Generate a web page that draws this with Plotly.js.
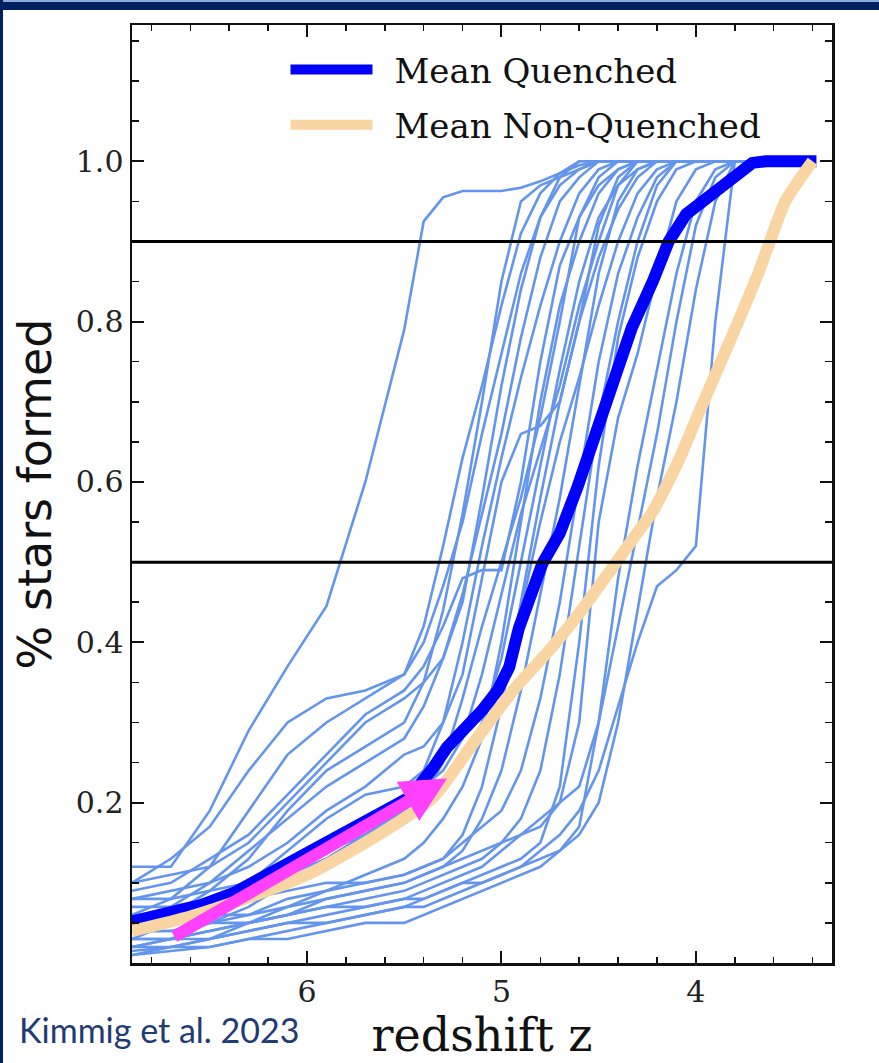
<!DOCTYPE html>
<html>
<head>
<meta charset="utf-8">
<script src="https://cdn.plot.ly/plotly-3.0.1.min.js"></script>
<style>
html,body{margin:0;padding:0;background:#fff;}
#wrap{position:relative;width:879px;height:1063px;overflow:hidden;}
#chart{position:absolute;left:0;top:0;width:879px;height:1063px;}
#topbar{position:absolute;left:0;top:0;width:879px;height:10px;background:#002060;border-top:2px solid #8eaadb;box-sizing:border-box;z-index:5;}
#leftbar{position:absolute;left:0;top:0;width:3px;height:1063px;background:#002060;z-index:5;}
</style>
</head>
<body>
<div id="wrap"><div id="chart"></div><div id="topbar"></div><div id="leftbar"></div></div>
<script>
// ---- data ----
const redshiftGrid = [6.9, 6.7, 6.5, 6.3, 6.1, 5.9, 5.7, 5.5, 5.4, 5.3, 5.2, 5.1, 5.0, 4.9, 4.8, 4.7, 4.6, 4.5, 4.4, 4.3, 4.2, 4.1, 4.0, 3.9, 3.8, 3.65];

const galaxy01 = [0.12,0.12,0.19,0.29,0.37,0.445,0.60,0.79,0.925,0.955,0.963,0.963,0.963,0.967,0.975,0.985,0.995,1,1,1,1,1,1,1,1,1];
const galaxy02 = [0.10,0.13,0.17,0.24,0.30,0.33,0.34,0.36,0.40,0.47,0.55,0.66,0.76,0.86,0.93,0.97,0.99,1,1,1,1,1,1,1,1,1];
const galaxy03 = [0.06,0.08,0.12,0.19,0.26,0.30,0.33,0.36,0.42,0.52,0.63,0.72,0.82,0.91,0.96,0.985,1,1,1,1,1,1,1,1,1,1];
const galaxy04 = [0.04,0.06,0.09,0.13,0.19,0.24,0.27,0.30,0.35,0.44,0.56,0.70,0.85,0.95,0.97,0.98,0.99,1,1,1,1,1,1,1,1,1];
const galaxy05 = [0.09,0.10,0.13,0.16,0.21,0.26,0.31,0.34,0.37,0.42,0.48,0.49,0.49,0.60,0.75,0.87,0.93,0.97,0.99,1,1,1,1,1,1,1];
const galaxy06 = [0.03,0.05,0.07,0.10,0.14,0.18,0.21,0.22,0.24,0.30,0.40,0.52,0.63,0.73,0.82,0.90,0.96,0.99,1,1,1,1,1,1,1,1];
const galaxy07 = [0.08,0.09,0.10,0.12,0.15,0.19,0.22,0.26,0.27,0.30,0.36,0.48,0.60,0.66,0.67,0.70,0.80,0.92,0.98,1,1,1,1,1,1,1];
const galaxy08 = [0.02,0.03,0.05,0.07,0.10,0.13,0.16,0.19,0.21,0.25,0.33,0.42,0.50,0.58,0.68,0.80,0.93,0.98,1,1,1,1,1,1,1,1];
const galaxy09 = [0.05,0.06,0.07,0.09,0.12,0.15,0.17,0.20,0.22,0.24,0.28,0.36,0.46,0.56,0.64,0.72,0.82,0.90,0.97,1,1,1,1,1,1,1];
const galaxy10 = [0.07,0.07,0.08,0.10,0.11,0.13,0.16,0.18,0.20,0.22,0.25,0.30,0.38,0.50,0.62,0.74,0.85,0.93,0.97,0.99,1,1,1,1,1,1];
const galaxy11 = [0.01,0.02,0.03,0.05,0.07,0.09,0.11,0.13,0.15,0.18,0.22,0.28,0.35,0.44,0.55,0.65,0.73,0.82,0.90,0.96,0.99,1,1,1,1,1];
const galaxy12 = [0.04,0.04,0.05,0.06,0.08,0.09,0.10,0.11,0.12,0.13,0.16,0.22,0.32,0.45,0.58,0.70,0.80,0.88,0.94,0.98,1,1,1,1,1,1];
const galaxy13 = [0.02,0.03,0.04,0.05,0.06,0.08,0.09,0.10,0.11,0.12,0.14,0.18,0.24,0.34,0.46,0.58,0.72,0.86,0.95,0.99,1,1,1,1,1,1];
const galaxy14 = [0.06,0.06,0.07,0.08,0.09,0.10,0.10,0.11,0.12,0.13,0.15,0.17,0.19,0.24,0.33,0.45,0.60,0.75,0.86,0.93,0.98,1,1,1,1,1];
const galaxy15 = [0.03,0.03,0.04,0.05,0.06,0.07,0.08,0.09,0.10,0.11,0.12,0.13,0.15,0.18,0.24,0.36,0.52,0.68,0.80,0.90,0.97,1,1,1,1,1];
const galaxy16 = [0.01,0.015,0.02,0.03,0.04,0.05,0.06,0.07,0.08,0.09,0.10,0.11,0.12,0.13,0.15,0.22,0.40,0.62,0.78,0.88,0.95,0.99,1,1,1,1];
const galaxy17 = [0.05,0.05,0.06,0.06,0.07,0.08,0.09,0.10,0.11,0.12,0.13,0.14,0.15,0.16,0.17,0.20,0.30,0.55,0.68,0.76,0.86,0.95,0.99,1,1,1];
const galaxy18 = [0.02,0.02,0.03,0.04,0.05,0.06,0.07,0.08,0.08,0.09,0.10,0.10,0.11,0.12,0.13,0.14,0.17,0.30,0.48,0.62,0.74,0.86,0.95,0.99,1,1];
const galaxy19 = [0.04,0.04,0.05,0.05,0.06,0.07,0.07,0.08,0.09,0.10,0.11,0.12,0.14,0.16,0.18,0.20,0.22,0.30,0.42,0.54,0.66,0.80,0.92,0.98,1,1];
const galaxy20 = [0.03,0.03,0.03,0.04,0.05,0.05,0.06,0.07,0.07,0.08,0.09,0.10,0.11,0.12,0.14,0.16,0.19,0.24,0.32,0.40,0.47,0.49,0.52,0.80,1,1];
const galaxy21 = [0.015,0.02,0.02,0.03,0.03,0.04,0.05,0.05,0.06,0.07,0.08,0.09,0.10,0.11,0.12,0.14,0.16,0.20,0.30,0.44,0.58,0.70,0.84,0.95,1,1];
const galaxy22 = [0.08,0.08,0.09,0.10,0.12,0.14,0.16,0.19,0.21,0.23,0.25,0.28,0.40,0.55,0.70,0.82,0.90,0.96,0.99,1,1,1,1,1,1,1];
const galaxy23 = [0.10,0.11,0.12,0.15,0.20,0.25,0.30,0.33,0.35,0.38,0.45,0.58,0.72,0.84,0.93,0.98,1,1,1,1,1,1,1,1,1,1];
const galaxy24 = [0.05,0.07,0.10,0.14,0.18,0.22,0.25,0.28,0.32,0.38,0.46,0.56,0.66,0.78,0.88,0.95,0.98,1,1,1,1,1,1,1,1,1];

const meanQuenchedZ    = [6.9, 6.72, 6.55, 6.38, 6.2, 6.0, 5.8, 5.6, 5.47, 5.35, 5.28, 5.1, 5.02, 4.96, 4.91, 4.79, 4.70, 4.61, 4.53, 4.46, 4.43, 4.33, 4.22, 4.14, 4.05, 3.92, 3.81, 3.71, 3.64, 3.38];
const meanQuenchedFrac = [0.052, 0.061, 0.072, 0.087, 0.110, 0.137, 0.163, 0.190, 0.207, 0.244, 0.269, 0.315, 0.340, 0.369, 0.418, 0.498, 0.536, 0.593, 0.648, 0.697, 0.726, 0.792, 0.851, 0.900, 0.934, 0.959, 0.979, 0.998, 1.0, 1.0];

const meanNonQuenchedZ    = [6.9, 6.6, 6.3, 6.0, 5.7, 5.35, 5.16, 4.94, 4.74, 4.60, 4.43, 4.33, 4.22, 4.09, 3.98, 3.8, 3.675, 3.54, 3.40];
const meanNonQuenchedFrac = [0.040, 0.058, 0.082, 0.110, 0.150, 0.207, 0.269, 0.340, 0.394, 0.436, 0.493, 0.527, 0.564, 0.626, 0.689, 0.790, 0.863, 0.950, 1.0];

const referenceLevels = [0.9, 0.5];
const arrowTail = [6.69, 0.032];
const arrowHead = [5.28, 0.230];

const xTickVals = [6, 5, 4];
const yTickVals = [0.2, 0.4, 0.6, 0.8, 1.0];

const legendNames = ['Mean Quenched', 'Mean Non-Quenched'];
const creditText = 'Kimmig et al. 2023';

// ---- traces ----
const galaxies = [galaxy01,galaxy02,galaxy03,galaxy04,galaxy05,galaxy06,galaxy07,galaxy08,galaxy09,galaxy10,galaxy11,galaxy12,
                  galaxy13,galaxy14,galaxy15,galaxy16,galaxy17,galaxy18,galaxy19,galaxy20,galaxy21,galaxy22,galaxy23,galaxy24];

const traces = galaxies.map(g => ({
  x: redshiftGrid, y: g, type: 'scatter', mode: 'lines',
  line: {color: '#6495ED', width: 2.6}, showlegend: false, hoverinfo: 'skip'
}));

traces.push({
  x: meanQuenchedZ, y: meanQuenchedFrac, type: 'scatter', mode: 'lines',
  name: '\u2002' + legendNames[0], legendgroup: 'q', line: {color: '#0000FF', width: 12}
});
traces.push({
  x: meanNonQuenchedZ, y: meanNonQuenchedFrac, type: 'scatter', mode: 'lines',
  name: '\u2002' + legendNames[1], legendgroup: 'n', line: {color: '#F9D5A3', width: 12, shape: 'spline', smoothing: 0.6}
});

const axisCommon = {
  ticks: 'inside', ticklen: 12, tickwidth: 2, tickcolor: '#111',
  showline: true, linecolor: '#111', linewidth: 2.5, mirror: 'allticks',
  showgrid: false, zeroline: false,
  tickfont: {family: 'DejaVu Serif', size: 30, color: '#222'}
};

const layout = {
  width: 879, height: 1063,
  margin: {l: 132, r: 47, t: 25, b: 100},
  paper_bgcolor: '#ffffff', plot_bgcolor: '#ffffff',
  showlegend: true,
  xaxis: Object.assign({}, axisCommon, {
    range: [6.9, 3.3], tickvals: xTickVals, ticktext: xTickVals.map(String),
    minor: {dtick: 0.2, tick0: 0, ticks: 'inside', ticklen: 6, tickwidth: 1.5, tickcolor: '#111', showgrid: false},
    title: {text: 'redshift z', font: {family: 'DejaVu Serif', size: 46, color: '#111'}, standoff: 2}
  }),
  yaxis: Object.assign({}, axisCommon, {
    range: [0, 1.17], tickvals: yTickVals, tickformat: '.1f',
    minor: {dtick: 0.05, tick0: 0, ticks: 'inside', ticklen: 7, tickwidth: 1.5, tickcolor: '#111', showgrid: false},
    title: {text: '% stars formed', font: {family: 'DejaVu Sans', size: 46, color: '#111'}, standoff: 10}
  }),
  legend: {
    x: 0.2193, y: 0.983, xanchor: 'left', yanchor: 'top',
    bgcolor: 'rgba(255,255,255,0.9)', borderwidth: 0,
    font: {family: 'DejaVu Serif', size: 34, color: '#111'},
    itemwidth: 82, traceorder: 'grouped', tracegroupgap: 8
  },
  shapes: referenceLevels.map(v => ({
    type: 'line', xref: 'paper', x0: 0, x1: 1, yref: 'y', y0: v, y1: v,
    line: {color: '#000', width: 3}, layer: 'above'
  })),
  annotations: [
    {
      x: arrowHead[0], y: arrowHead[1], ax: arrowTail[0], ay: arrowTail[1],
      xref: 'x', yref: 'y', axref: 'x', ayref: 'y',
      text: '', showarrow: true, arrowhead: 2, arrowsize: 0.75, arrowwidth: 12, arrowcolor: '#FF40FF'
    },
    {
      xref: 'paper', yref: 'paper', x: -0.165, y: -0.0714, xanchor: 'left', yanchor: 'middle',
      text: creditText, showarrow: false,
      font: {family: 'Lato', size: 34, color: '#1F3B73'}
    }
  ]
};

Plotly.newPlot('chart', traces, layout, {displayModeBar: false, staticPlot: true});
</script>
</body>
</html>
